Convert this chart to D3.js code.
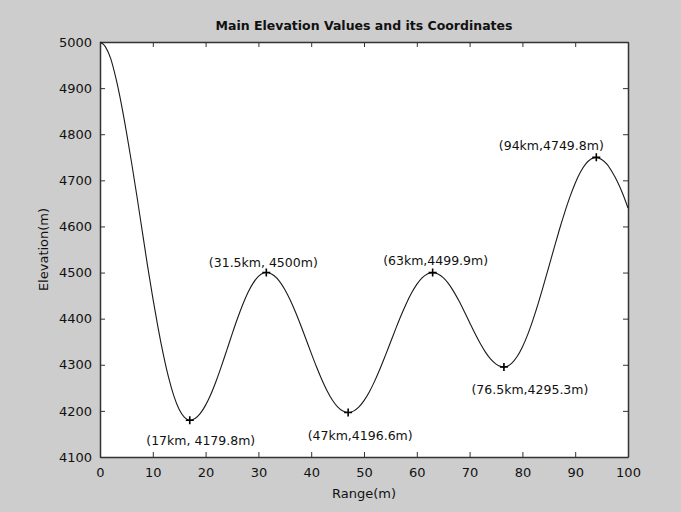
<!DOCTYPE html>
<html><head><meta charset="utf-8">
<script src="https://cdn.jsdelivr.net/npm/d3@7"></script>
<style>
html,body{margin:0;padding:0;background:#cdcdcd;}
svg{display:block;}
text{font-family:"DejaVu Sans",sans-serif;fill:#111;}
</style></head>
<body>
<svg id="chart" width="681" height="512"></svg>
<script>
// ---- data ----
const rangeKm = [0,1,2,3,4,5,6,7,8,9,10,11,12,13,14,15,16,17,18,19,20,21,22,23,24,25,26,27,28,29,30,31,31.5,32,33,34,35,36,37,38,39,40,41,42,43,44,45,46,47,48,49,50,51,52,53,54,55,56,57,58,59,60,61,62,63,64,65,66,67,68,69,70,71,72,73,74,75,76,76.5,77,78,79,80,81,82,83,84,85,86,87,88,89,90,91,92,93,94,95,96,97,98,99,100];
const elevationM = [5000,4990,4965,4922,4868,4805,4737,4665,4590,4515,4445,4380,4322,4272,4232,4203,4186,4179.8,4183.5,4194.6,4212.5,4236.2,4264.9,4297.1,4331.2,4365.8,4399.2,4429.7,4456.1,4477.1,4491.9,4499.1,4500,4499.2,4493.0,4481.0,4463.4,4441.2,4415.1,4386.3,4356.0,4325.3,4295.6,4268.1,4243.8,4223.7,4208.8,4199.6,4196.6,4199.5,4208.1,4222.2,4241.0,4264.0,4290.2,4318.7,4348.3,4377.8,4406.3,4432.5,4455.5,4474.3,4488.4,4497.0,4499.9,4497.1,4489.0,4476.0,4458.7,4438.1,4415.4,4391.7,4368.3,4346.5,4327.4,4312.1,4301.5,4296.0,4295.3,4296.2,4303.5,4317.8,4338.7,4365.5,4397.5,4433.2,4472.0,4512.4,4553.0,4592.8,4630.1,4664.2,4693.8,4717.9,4735.5,4746.1,4749.8,4745,4735,4718,4697,4671,4640];
const markRange = [17,31.5,47,63,76.5,94];
const markElev = [4179.8,4500,4196.6,4499.9,4295.3,4749.8];
const markLabels = ["(17km, 4179.8m)","(31.5km, 4500m)","(47km,4196.6m)","(63km,4499.9m)","(76.5km,4295.3m)","(94km,4749.8m)"];
const xTicks = [0,10,20,30,40,50,60,70,80,90,100];
const yTicks = [4100,4200,4300,4400,4500,4600,4700,4800,4900,5000];
const titleText = "Main Elevation Values and its Coordinates";
const xLabelText = "Range(m)";
const yLabelText = "Elevation(m)";

// ---- layout ----
const plot = {left:100, top:42, right:628, bottom:457};
const labelOffsets = [[11,20],[-3,-10],[12,23],[3,-12],[26,23],[-45,-12]]; // label centre relative to marker

const svg = d3.select("#chart");
svg.append("rect").attr("width",681).attr("height",512).attr("fill","#cdcdcd");
const x = d3.scaleLinear().domain([0,100]).range([plot.left,plot.right]);
const y = d3.scaleLinear().domain([4100,5000]).range([plot.bottom,plot.top]);

svg.append("rect").attr("x",plot.left).attr("y",plot.top)
  .attr("width",plot.right-plot.left).attr("height",plot.bottom-plot.top).attr("fill","#fff");

const tickLen = 5;
const axStroke = "#333";
const gx = svg.append("g").attr("transform",`translate(0,${plot.bottom})`)
  .call(d3.axisBottom(x).tickValues(xTicks).tickSizeInner(-tickLen).tickSizeOuter(0).tickPadding(11).tickFormat(d3.format("d")));
const gxTop = svg.append("g").attr("transform",`translate(0,${plot.top})`)
  .call(d3.axisTop(x).tickValues(xTicks).tickSizeInner(-tickLen).tickSizeOuter(0).tickFormat(""));
const gy = svg.append("g").attr("transform",`translate(${plot.left},0)`)
  .call(d3.axisLeft(y).tickValues(yTicks).tickSizeInner(-tickLen).tickSizeOuter(0).tickPadding(8).tickFormat(d3.format("d")));
const gyR = svg.append("g").attr("transform",`translate(${plot.right},0)`)
  .call(d3.axisRight(y).tickValues(yTicks).tickSizeInner(-tickLen).tickSizeOuter(0).tickFormat(""));
[gx,gxTop,gy,gyR].forEach(g=>{
  g.select(".domain").attr("stroke",axStroke).attr("stroke-width",1.5);
  g.selectAll(".tick line").attr("stroke",axStroke).attr("stroke-width",1);
  g.selectAll(".tick text").attr("font-family","DejaVu Sans, sans-serif").attr("font-size",13).attr("fill","#111");
});
gx.selectAll(".tick text").attr("dy","0.71em");

// curve
const pts = rangeKm.map((r,i)=>[r,elevationM[i]]);
svg.append("path").datum(pts)
  .attr("d",d3.line().x(d=>x(d[0])).y(d=>y(d[1])).curve(d3.curveMonotoneX))
  .attr("fill","none").attr("stroke","#1a1a1a").attr("stroke-width",1.1);

// markers
const m = svg.append("g");
markRange.forEach((r,i)=>{
  const cx = x(r), cy = y(markElev[i]);
  m.append("path").attr("d",`M${cx-4},${cy}H${cx+4}M${cx},${cy-4}V${cy+4}`)
    .attr("stroke","#000").attr("stroke-width",1.6);
  svg.append("text").attr("x",cx+labelOffsets[i][0]).attr("y",cy+labelOffsets[i][1])
    .attr("text-anchor","middle").attr("dy","0.35em").attr("font-size",12.5).text(markLabels[i]);
});

// titles
svg.append("text").attr("x",(plot.left+plot.right)/2).attr("y",26).attr("text-anchor","middle")
  .attr("dy","0.35em").attr("font-size",12.5).attr("font-weight","bold").text(titleText);
svg.append("text").attr("x",(plot.left+plot.right)/2).attr("y",493).attr("text-anchor","middle")
  .attr("dy","0.35em").attr("font-size",13).text(xLabelText);
svg.append("text").attr("transform",`translate(43,${(plot.top+plot.bottom)/2}) rotate(-90)`)
  .attr("text-anchor","middle").attr("dy","0.35em").attr("font-size",13).text(yLabelText);
</script>
</body></html>
